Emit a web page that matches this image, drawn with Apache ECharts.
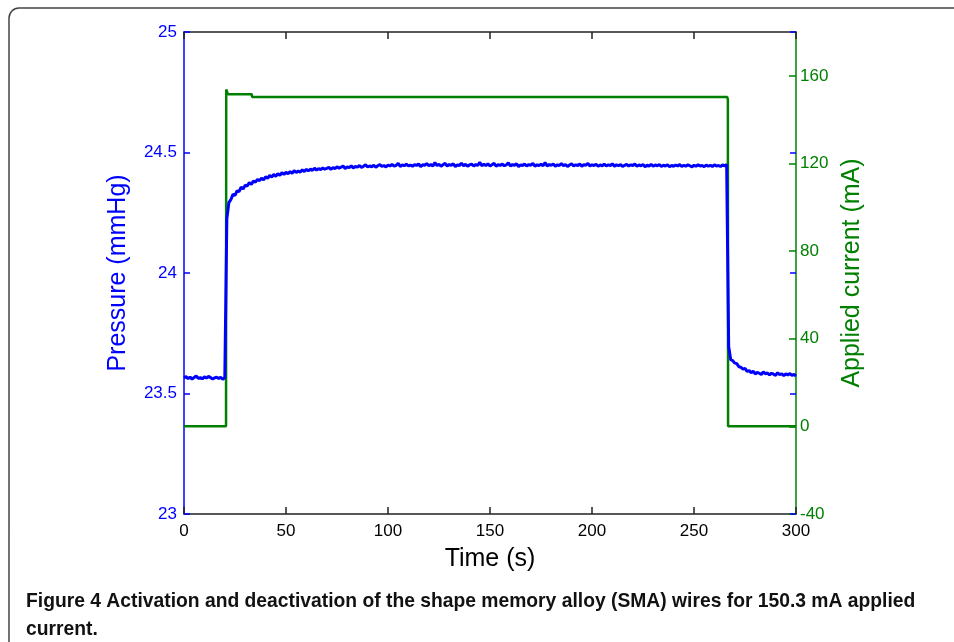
<!DOCTYPE html>
<html>
<head>
<meta charset="utf-8">
<script src="https://cdn.jsdelivr.net/npm/echarts@6/dist/echarts.min.js"></script>
<style>
html,body{margin:0;padding:0;background:#fff;}
#chart{width:954px;height:642px;}
</style>
</head>
<body>
<div id="chart"></div>
<script>
// ---- data ----
var timeTicks = [0, 50, 100, 150, 200, 250, 300];
var pressureStartTime = 0;   // s, first sample
var pressureStep = 1;        // s between samples
// Pressure (mmHg), one sample per second from t = 0 to t = 300 s
var pressure = [
  23.565, 23.570, 23.562, 23.568, 23.560, 23.567, 23.572, 23.563, 23.566, 23.561,
  23.569, 23.564, 23.571, 23.566, 23.560, 23.565, 23.568, 23.562, 23.567, 23.559, 23.566,
  24.225, 24.292, 24.305, 24.326, 24.322, 24.341, 24.338, 24.356, 24.349, 24.364,
  24.361, 24.375, 24.368, 24.381, 24.377, 24.388, 24.383, 24.394, 24.386, 24.399,
  24.393, 24.405, 24.398, 24.409, 24.401, 24.412, 24.405, 24.416, 24.409, 24.418,
  24.412, 24.421, 24.414, 24.425, 24.417, 24.423, 24.419, 24.428, 24.421, 24.430,
  24.424, 24.431, 24.426, 24.435, 24.427, 24.433, 24.429, 24.436, 24.431, 24.434,
  24.438, 24.430, 24.437, 24.433, 24.441, 24.435, 24.439, 24.444, 24.434, 24.440,
  24.437, 24.445, 24.436, 24.442, 24.439, 24.446, 24.438, 24.443, 24.449, 24.440,
  24.444, 24.441, 24.447, 24.439, 24.445, 24.450, 24.442, 24.446, 24.440, 24.448,
  24.444, 24.451, 24.443, 24.447, 24.455, 24.442, 24.449, 24.445, 24.452, 24.444,
  24.448, 24.443, 24.450, 24.446, 24.453, 24.441, 24.449, 24.447, 24.454, 24.445,
  24.450, 24.444, 24.458, 24.446, 24.451, 24.443, 24.449, 24.455, 24.444, 24.450,
  24.447, 24.453, 24.442, 24.449, 24.446, 24.456, 24.445, 24.451, 24.443, 24.449,
  24.452, 24.444, 24.450, 24.447, 24.459, 24.445, 24.451, 24.446, 24.453, 24.444,
  24.449, 24.455, 24.443, 24.450, 24.446, 24.452, 24.445, 24.449, 24.457, 24.444,
  24.450, 24.447, 24.453, 24.442, 24.449, 24.446, 24.452, 24.444, 24.450, 24.447,
  24.455, 24.443, 24.449, 24.446, 24.451, 24.445, 24.458, 24.444, 24.450, 24.447,
  24.452, 24.443, 24.449, 24.446, 24.454, 24.445, 24.450, 24.442, 24.448, 24.453,
  24.444, 24.449, 24.446, 24.452, 24.443, 24.450, 24.447, 24.455, 24.444, 24.449,
  24.446, 24.451, 24.443, 24.448, 24.445, 24.452, 24.444, 24.449, 24.446, 24.453,
  24.443, 24.449, 24.445, 24.450, 24.442, 24.447, 24.451, 24.444, 24.449, 24.446,
  24.452, 24.443, 24.448, 24.445, 24.450, 24.441, 24.447, 24.444, 24.451, 24.443,
  24.448, 24.445, 24.450, 24.442, 24.447, 24.444, 24.449, 24.441, 24.446, 24.443,
  24.448, 24.444, 24.450, 24.442, 24.447, 24.443, 24.449, 24.445, 24.440, 24.447,
  24.443, 24.449, 24.444, 24.446, 24.441, 24.448, 24.443, 24.447, 24.442, 24.449,
  24.444, 24.446, 24.442, 24.448, 24.445, 24.450,
  23.695, 23.640, 23.636, 23.626, 23.624, 23.611, 23.609, 23.601, 23.604, 23.592,
  23.595, 23.586, 23.593, 23.581, 23.588, 23.584, 23.579, 23.590, 23.582, 23.585,
  23.577, 23.584, 23.580, 23.575, 23.586, 23.578, 23.582, 23.574, 23.581, 23.577,
  23.583, 23.575, 23.579, 23.573
];
// Applied current (mA): breakpoints of the step profile
var currentTime  = [0, 20.6, 20.7, 21.5, 33.2, 33.4, 266.3, 266.6, 266.7, 300];
var currentValue = [0, 0,    153.8, 151.6, 151.6, 150.3, 150.3, 149.2, 0,    0];

var xName = 'Time (s)';
var leftName = 'Pressure (mmHg)';
var rightName = 'Applied current (mA)';
var caption = 'Figure 4 Activation and deactivation of the shape memory alloy (SMA) wires for 150.3 mA applied\ncurrent.';

// ---- chart ----
var BLUE = '#0000ff', GREEN = '#008000', BLACK = '#000000';
var FONT = 'Liberation Sans, Arial, sans-serif';

var pressureData = pressure.map(function (v, i) { return [pressureStartTime + i * pressureStep, v]; });
var currentData = currentTime.map(function (t, i) { return [t, currentValue[i]]; });

var chart = echarts.init(document.getElementById('chart'), null, {renderer: 'canvas'});
var option = {
  animation: false,
  backgroundColor: '#fff',
  grid: {left: 184, right: 158, top: 32, bottom: 128, containLabel: false},
  graphic: [
    {type: 'rect', shape: {x: 9, y: 8, width: 1000, height: 700, r: 10}, style: {fill: 'none', stroke: '#444', lineWidth: 1.5}, silent: true, z: -10}
  ],
  title: {
    text: caption,
    left: 21, top: 583,
    textStyle: {fontFamily: 'Liberation Sans, Arial, sans-serif', fontWeight: 'bold', fontSize: 19.3, color: '#111', lineHeight: 28}
  },
  xAxis: [
    {
      type: 'value', position: 'bottom', min: 0, max: 300, interval: 50,
      name: xName, nameLocation: 'middle', nameGap: 33,
      nameTextStyle: {fontFamily: FONT, fontSize: 25, color: BLACK},
      axisLine: {onZero: false, lineStyle: {color: '#222', width: 1.5}},
      axisTick: {inside: true, length: 7, lineStyle: {color: '#222', width: 1.5}},
      axisLabel: {margin: 9, fontFamily: FONT, fontSize: 17, color: BLACK,
        formatter: function (v) { return timeTicks.indexOf(v) >= 0 ? String(v) : ''; }},
      splitLine: {show: false}
    },
    {
      type: 'value', position: 'top', min: 0, max: 300, interval: 50,
      axisLine: {onZero: false, lineStyle: {color: '#222', width: 1.5}},
      axisTick: {inside: true, length: 7, lineStyle: {color: '#222', width: 1.5}},
      axisLabel: {show: false},
      splitLine: {show: false}
    }
  ],
  yAxis: [
    {
      type: 'value', position: 'left', min: 23, max: 25, interval: 0.5,
      name: leftName, nameLocation: 'middle', nameRotate: 90, nameGap: 53,
      nameTextStyle: {fontFamily: FONT, fontSize: 25, color: BLUE},
      axisLine: {show: true, onZero: false, lineStyle: {color: BLUE, width: 1.5}},
      axisTick: {show: true, inside: true, length: 6, lineStyle: {color: BLUE, width: 1.5}},
      axisLabel: {margin: 7, fontFamily: FONT, fontSize: 17, color: BLUE},
      splitLine: {show: false}
    },
    {
      type: 'value', position: 'right', min: -40, max: 180, interval: 40,
      name: rightName, nameLocation: 'middle', nameRotate: 90, nameGap: 42,
      nameTextStyle: {fontFamily: FONT, fontSize: 25, color: GREEN},
      axisLine: {show: true, onZero: false, lineStyle: {color: GREEN, width: 1.5}},
      axisTick: {show: true, inside: true, length: 7, lineStyle: {color: GREEN, width: 1.5}},
      axisLabel: {margin: 4, fontFamily: FONT, fontSize: 17, color: GREEN, showMaxLabel: false},
      splitLine: {show: false}
    },
    {
      type: 'value', position: 'right', min: 23, max: 25, interval: 0.5,
      axisLine: {show: false, onZero: false},
      axisTick: {show: true, inside: true, length: 6, lineStyle: {color: BLUE, width: 1.5}},
      axisLabel: {show: false},
      splitLine: {show: false}
    }
  ],
  series: [
    {
      type: 'line', name: 'current', xAxisIndex: 0, yAxisIndex: 1, data: currentData,
      showSymbol: false, lineStyle: {color: GREEN, width: 2.5}, z: 2
    },
    {
      type: 'line', name: 'pressure', xAxisIndex: 0, yAxisIndex: 0, data: pressureData,
      showSymbol: false, lineStyle: {color: BLUE, width: 3}, z: 3
    }
  ]
};
chart.setOption(option);
</script>
</body>
</html>
